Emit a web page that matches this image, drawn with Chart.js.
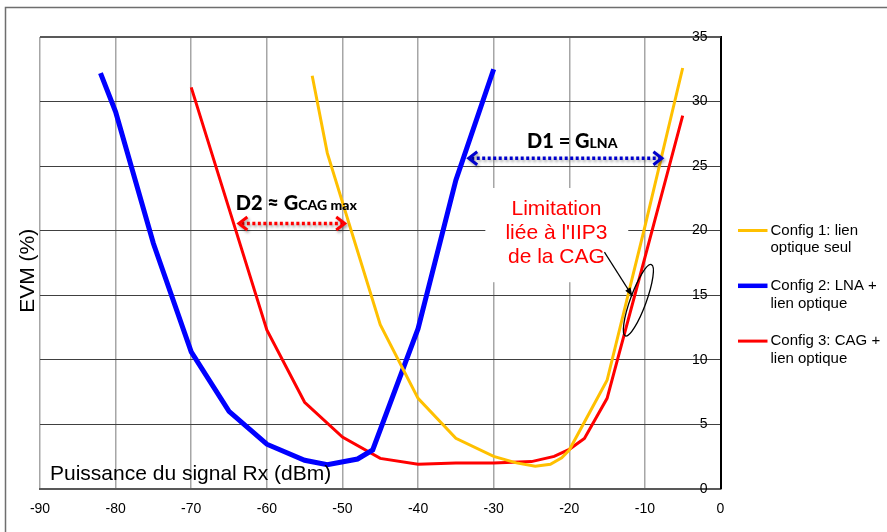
<!DOCTYPE html>
<html><head><meta charset="utf-8">
<script src="https://cdn.jsdelivr.net/npm/chart.js@4.4.0/dist/chart.umd.min.js"></script>
<style>html,body{margin:0;padding:0;background:#fff;overflow:hidden}#c{display:block}</style>
</head><body>
<canvas id="c" width="887" height="532" style="width:887px;height:532px"></canvas>
<script>
// ---- data ----
const xTicks = [-90, -80, -70, -60, -50, -40, -30, -20, -10, 0];
const yTicks = [0, 5, 10, 15, 20, 25, 30, 35];

const seriesLabels = [
  ['Config 1: lien', 'optique seul'],
  ['Config 2: LNA +', 'lien optique'],
  ['Config 3: CAG +', 'lien optique']
];

const config1X = [-54, -52, -45, -40, -35, -30, -27, -24.5, -22.5, -21, -20, -15, -10, -5];
const config1Y = [32.0, 26.0, 12.7, 7.0, 3.9, 2.5, 2.0, 1.75, 1.9, 2.4, 3.0, 8.4, 20.3, 32.6];

const config2X = [-82, -80, -75, -70, -65, -60, -55, -52, -48, -46, -40, -35, -30];
const config2Y = [32.2, 29.2, 19.0, 10.6, 6.0, 3.45, 2.2, 1.85, 2.3, 3.0, 12.4, 23.9, 32.5];

const config3X = [-70, -65, -60, -55, -50, -45, -40, -35, -30, -25, -22, -20, -18, -15, -10, -5];
const config3Y = [31.1, 21.7, 12.3, 6.7, 4.0, 2.35, 1.9, 2.0, 2.0, 2.1, 2.5, 3.05, 3.9, 7.0, 17.9, 28.9];

const pts = (xs, ys) => xs.map((x, i) => ({x: x, y: ys[i]}));

const FONT = "'Liberation Sans', Arial, sans-serif";
const BOLD = "Lato, 'Open Sans', sans-serif";

function dottedArrow(ctx, x1, x2, y, color) {
  ctx.save();
  ctx.shadowColor = 'rgba(0,0,0,0.35)';
  ctx.shadowBlur = 3; ctx.shadowOffsetX = 1.5; ctx.shadowOffsetY = 2;
  ctx.strokeStyle = color; ctx.lineWidth = 3.5; ctx.setLineDash([3, 2.5]);
  ctx.beginPath(); ctx.moveTo(x1 + 4, y); ctx.lineTo(x2 - 4, y); ctx.stroke();
  ctx.setLineDash([]); ctx.lineWidth = 3; ctx.lineJoin = 'miter'; ctx.lineCap = 'butt';
  ctx.beginPath(); ctx.moveTo(x1 + 10, y - 6.5); ctx.lineTo(x1 + 1.5, y); ctx.lineTo(x1 + 10, y + 6.5); ctx.stroke();
  ctx.beginPath(); ctx.moveTo(x2 - 10, y - 6.5); ctx.lineTo(x2 - 1.5, y); ctx.lineTo(x2 - 10, y + 6.5); ctx.stroke();
  ctx.restore();
}

function subText(ctx, cx, baseline, main, sub, mainSize, subSize) {
  ctx.save();
  ctx.fillStyle = '#000';
  ctx.textBaseline = 'alphabetic';
  ctx.font = '900 ' + mainSize + 'px ' + BOLD;
  const w1 = ctx.measureText(main).width;
  ctx.font = '900 ' + subSize + 'px ' + BOLD;
  const w2 = ctx.measureText(sub).width;
  const x0 = cx - (w1 + w2) / 2;
  ctx.font = '900 ' + mainSize + 'px ' + BOLD;
  ctx.textAlign = 'left';
  ctx.fillText(main, x0, baseline);
  ctx.font = '900 ' + subSize + 'px ' + BOLD;
  ctx.fillText(sub, x0 + w1, baseline);
  ctx.restore();
}

const annot = {
  id: 'annot',
  beforeDatasetsDraw(chart) {
    const {ctx, scales: {x, y}} = chart;
    ctx.save();
    ctx.fillStyle = '#fff';
    const bx1 = x.getPixelForValue(-31.1), bx2 = x.getPixelForValue(-12.2);
    const by1 = y.getPixelForValue(23.3), by2 = y.getPixelForValue(16.0);
    ctx.fillRect(bx1, by1, bx2 - bx1, by2 - by1);
    const ca = chart.chartArea;
    ctx.strokeStyle = '#595959'; ctx.lineWidth = 2;
    ctx.beginPath(); ctx.moveTo(ca.left, ca.top); ctx.lineTo(ca.right, ca.top); ctx.stroke();
    ctx.restore();
  },
  afterDatasetsDraw(chart) {
    const {ctx, scales: {x, y}} = chart;
    dottedArrow(ctx, x.getPixelForValue(-33.5), x.getPixelForValue(-7.55), y.getPixelForValue(25.6), '#0000cc');
    subText(ctx, x.getPixelForValue(-19.6), y.getPixelForValue(26.4), 'D1 = G', 'LNA', 20, 14);
    dottedArrow(ctx, x.getPixelForValue(-63.9), x.getPixelForValue(-49.5), y.getPixelForValue(20.55), '#ff0000');
    subText(ctx, x.getPixelForValue(-56.1), y.getPixelForValue(21.6), 'D2 \u2248 G', 'CAG max', 20, 14);
    ctx.save();
    ctx.fillStyle = '#ff0000';
    ctx.font = '21px ' + FONT;
    ctx.textAlign = 'center'; ctx.textBaseline = 'middle';
    const lx = x.getPixelForValue(-21.7);
    ctx.fillText('Limitation', lx, y.getPixelForValue(21.65));
    ctx.fillText("li\u00e9e \u00e0 l'IIP3", lx, y.getPixelForValue(19.78));
    ctx.fillText('de la CAG', lx, y.getPixelForValue(17.92));
    const ax1 = x.getPixelForValue(-15.35), ay1 = y.getPixelForValue(18.33);
    const ax2 = x.getPixelForValue(-11.65), ay2 = y.getPixelForValue(14.92);
    ctx.strokeStyle = '#000'; ctx.fillStyle = '#000'; ctx.lineWidth = 1.2;
    ctx.beginPath(); ctx.moveTo(ax1, ay1); ctx.lineTo(ax2, ay2); ctx.stroke();
    const ang = Math.atan2(ay2 - ay1, ax2 - ax1);
    ctx.beginPath();
    ctx.moveTo(ax2, ay2);
    ctx.lineTo(ax2 - 9 * Math.cos(ang - 0.35), ay2 - 9 * Math.sin(ang - 0.35));
    ctx.lineTo(ax2 - 9 * Math.cos(ang + 0.35), ay2 - 9 * Math.sin(ang + 0.35));
    ctx.closePath(); ctx.fill();
    ctx.lineWidth = 1.3;
    ctx.beginPath();
    ctx.ellipse(x.getPixelForValue(-10.86), y.getPixelForValue(14.6), 38, 8, -70 * Math.PI / 180, 0, Math.PI * 2);
    ctx.stroke();
    ctx.restore();
  },
  afterDraw(chart) {
    const {ctx, scales: {y}} = chart;
    const ca = chart.chartArea;
    ctx.save();
    ctx.strokeStyle = '#6e6e6e'; ctx.lineWidth = 1.5;
    ctx.strokeRect(5.5, 7.5, 1000, 1000);
    // y tick labels (inside, right aligned against the right axis)
    ctx.fillStyle = '#000';
    ctx.font = '14px ' + FONT;
    ctx.textAlign = 'right'; ctx.textBaseline = 'middle';
    y.ticks.forEach(t => ctx.fillText(String(t.value), ca.right - 13, y.getPixelForValue(t.value)));
    // axis titles
    ctx.font = '21px ' + FONT;
    ctx.textAlign = 'left'; ctx.textBaseline = 'alphabetic';
    ctx.fillText('Puissance du signal Rx (dBm)', ca.left + 10, ca.bottom - 8.5);
    ctx.save();
    ctx.translate(ca.left - 12, (ca.top + ca.bottom) / 2 + 8);
    ctx.rotate(-Math.PI / 2);
    ctx.textAlign = 'center'; ctx.textBaseline = 'middle';
    ctx.fillText('EVM (%)', 0, 0);
    ctx.restore();
    // legend
    ctx.font = '15px ' + FONT;
    ctx.textAlign = 'left'; ctx.textBaseline = 'middle';
    chart.data.datasets.forEach((ds, i) => {
      const yy = 230.5 + i * 55.3;
      ctx.strokeStyle = ds.borderColor;
      ctx.lineWidth = i === 1 ? 4.5 : 3;
      ctx.beginPath(); ctx.moveTo(ca.right + 17.5, yy); ctx.lineTo(ca.right + 47, yy); ctx.stroke();
      ctx.fillStyle = '#000';
      seriesLabels[i].forEach((t, k) => ctx.fillText(t, ca.right + 50, yy + k * 17.6));
    });
    ctx.restore();
  }
};

new Chart(document.getElementById('c'), {
  type: 'scatter',
  data: {
    datasets: [
      {label: seriesLabels[0].join(' '), data: pts(config1X, config1Y), showLine: true, borderColor: '#FFC000', borderWidth: 3, pointRadius: 0, tension: 0, fill: false},
      {label: seriesLabels[1].join(' '), data: pts(config2X, config2Y), showLine: true, borderColor: '#0000FF', borderWidth: 5, pointRadius: 0, tension: 0, fill: false},
      {label: seriesLabels[2].join(' '), data: pts(config3X, config3Y), showLine: true, borderColor: '#FF0000', borderWidth: 3, pointRadius: 0, tension: 0, fill: false}
    ]
  },
  options: {
    responsive: false, animation: false, devicePixelRatio: 1,
    layout: {padding: {left: 40, right: 166.5, top: 37, bottom: 0}},
    plugins: {legend: {display: false}, tooltip: {enabled: false}},
    scales: {
      x: {
        type: 'linear', min: -90, max: 0, position: 'bottom',
        afterBuildTicks: s => { s.ticks = xTicks.map(v => ({value: v})); },
        afterFit: s => { s.height = 43.3; },
        grid: {color: '#a6a6a6', lineWidth: 1.5, drawTicks: false},
        border: {color: '#595959', width: 2},
        ticks: {padding: 12, color: '#000', font: {family: FONT, size: 14}, maxRotation: 0, autoSkip: false}
      },
      y: {
        type: 'linear', min: 0, max: 35, position: 'right',
        afterBuildTicks: s => { s.ticks = yTicks.map(v => ({value: v})); },
        afterFit: s => { s.width = 0; },
        grid: {color: '#404040', lineWidth: 1, drawTicks: false},
        border: {color: '#000', width: 2},
        ticks: {display: false}
      }
    }
  },
  plugins: [annot]
});
</script>
</body></html>
